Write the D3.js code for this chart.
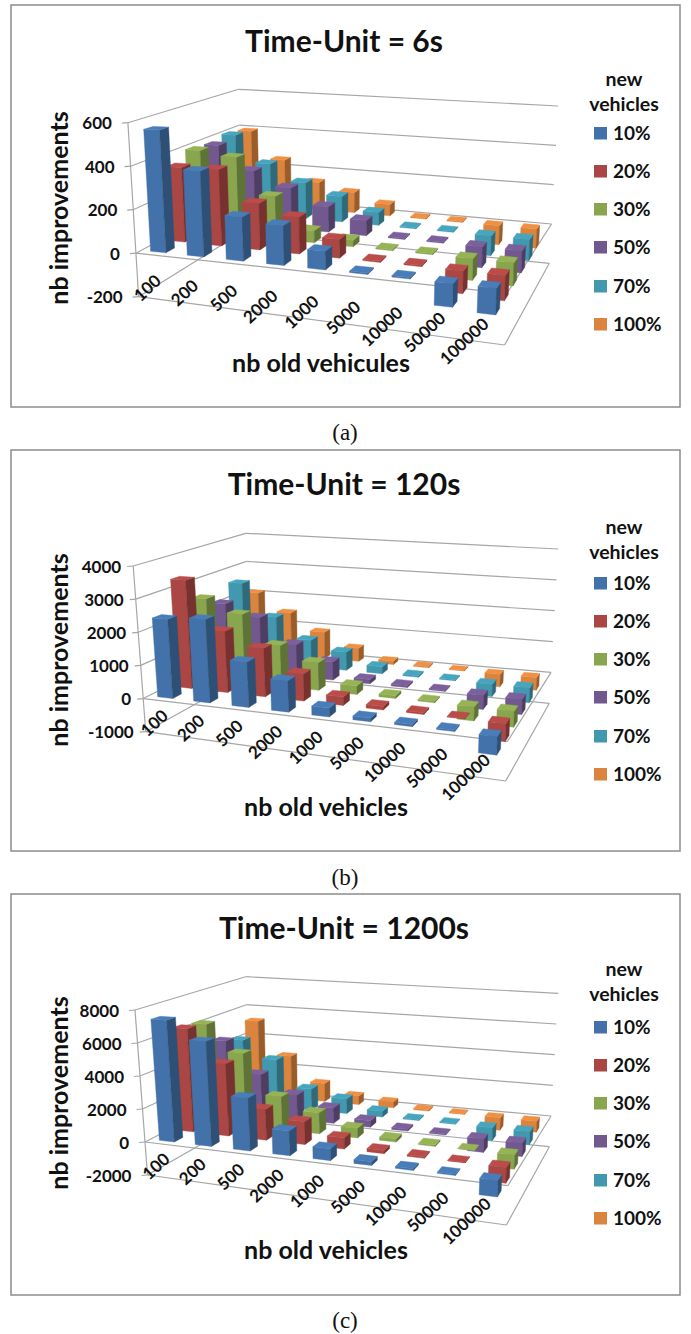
<!DOCTYPE html>
<html>
<head>
<meta charset="utf-8">
<script src="https://cdn.jsdelivr.net/npm/d3@7"></script>
<style>
  html, body { margin: 0; padding: 0; background: #fff; }
  svg { display: block; }
  text { font-family: Lato, "Open Sans", sans-serif; font-weight: bold; fill: #111; }
  .caption { font-family: "Liberation Serif", serif; font-weight: normal; font-size: 23px; }
</style>
</head>
<body>
<div class="container"></div>
<script>
const WIDTH = 691;
const HEIGHT = 1334;

const categories = ["100", "200", "500", "2000", "1000", "5000", "10000", "50000", "100000"];
const seriesNames = ["10%", "20%", "30%", "50%", "70%", "100%"];
const seriesColors = ["#4272a9", "#aa4643", "#89a54e", "#71588f", "#4198af", "#db843d"];

// one row per series, one column per category
const valuesA = [
    [563, 387, 195, 173, 80, 6, 6, -95, -105],
    [354, 357, 213, 166, 83, 6, 6, -95, -105],
    [399, 377, 202, 56, 30, 5, 5, -95, -100],
    [388, 271, 200, 123, 73, 5, 5, -95, -100],
    [406, 267, 184, 129, 64, 5, 5, -95, -100],
    [393, 249, 144, 106, 59, 5, 5, -95, -95]
];
const valuesB = [
    [2386, 2466, 1318, 892, 247, 100, 60, 40, -480],
    [3354, 1866, 1448, 798, 251, 100, 50, 20, -480],
    [2550, 2143, 1260, 842, 256, 80, 40, -400, -450],
    [2153, 1790, 1008, 571, 129, 60, 30, -420, -450],
    [2608, 1545, 881, 590, 222, 50, 30, -380, -450],
    [2060, 1458, 886, 442, 113, 40, 20, -400, -400]
];
const valuesC = [
    [7355, 6225, 3089, 1415, 665, 210, 100, 60, -850],
    [6417, 4411, 1849, 1347, 653, 182, 90, 40, -850],
    [6263, 4555, 2043, 1277, 582, 195, 80, 20, -800],
    [4711, 2699, 1580, 972, 408, 116, 60, -800, -800],
    [4297, 3154, 1396, 954, 376, 76, 50, -800, -800],
    [5171, 2905, 1228, 577, 399, 94, 40, -800, -700]
];

const ticksA = [-200, 0, 200, 400, 600];
const ticksB = [-1000, 0, 1000, 2000, 3000, 4000];
const ticksC = [-2000, 0, 2000, 4000, 6000, 8000];

// frame corners of each 3d box, on screen: front/back, left/right, bottom/top
const panels = [
    {title: "Time-Unit = 6s", titleX: 344, titleY: 52, xLabel: "nb old vehicules", xLabelX: 321, xLabelY: 372,
     yLabelY: 208, values: valuesA, ticks: ticksA, tickGap: 16, caption: "(a)", captionY: 440,
     box: [11, 5, 669, 402], legendTop: 80, rows: [133, 171, 209, 247, 286, 324],
     flb: [138.6, 296.7], flt: [127.9, 122.7], frb: [504.6, 345], frt: [513.6, 138.3],
     blb: [242.1, 232.3], blt: [238.6, 89.3], brb: [549.3, 263.3], brt: [558.2, 106]},
    {title: "Time-Unit = 120s", titleX: 344, titleY: 495, xLabel: "nb old vehicles", xLabelX: 326, xLabelY: 816,
     yLabelY: 650, values: valuesB, ticks: ticksB, tickGap: 12, caption: "(b)", captionY: 885,
     box: [11, 450, 669, 401], legendTop: 528, rows: [583, 621, 659, 697, 736, 774],
     flb: [145.7, 731.7], flt: [133.2, 566], frb: [505.7, 781], frt: [513.6, 584.3],
     blb: [249.3, 674], blt: [245.7, 533.3], brb: [549.3, 703.3], brt: [558.2, 549]},
    {title: "Time-Unit = 1200s", titleX: 344, titleY: 939, xLabel: "nb old vehicles", xLabelX: 326, xLabelY: 1259,
     yLabelY: 1093, values: valuesC, ticks: ticksC, tickGap: 16, caption: "(c)", captionY: 1328,
     box: [11, 894, 669, 401], legendTop: 970, rows: [1027, 1065, 1103, 1141, 1180, 1218],
     flb: [147.5, 1175], flt: [135, 1010], frb: [506.4, 1225], frt: [513.6, 1028.3],
     blb: [249.3, 1116.7], blt: [245.7, 976.7], brb: [549.3, 1146.7], brt: [558.2, 993.3]}
];

const GRID = "#a6a6a6";

var xBand = d3.scaleBand().domain(categories).range([0, 1]).paddingInner(0.57).paddingOuter(0.285);
var zBand = d3.scaleBand().domain(seriesNames).range([0, 1]).paddingInner(0.55).paddingOuter(0.275);

// spacing grows toward the viewer on x and shrinks away from him on z
var warpX = function(u){ return Math.pow(u, 1.07); };
var warpZ = function(w){ return 1 - Math.pow(1 - w, 1.15); };

var mix = function(a, b, t){
    return [a[0] + (b[0] - a[0]) * t, a[1] + (b[1] - a[1]) * t];
};

var makeProjection = function(panel){
    var yScale = d3.scaleLinear().domain(d3.extent(panel.ticks)).range([0, 1]);
    var atPlane = function(u, v, w){
        var fl = mix(panel.flb, panel.flt, v);
        var fr = mix(panel.frb, panel.frt, v);
        var bl = mix(panel.blb, panel.blt, v);
        var br = mix(panel.brb, panel.brt, v);
        return mix(mix(fl, fr, u), mix(bl, br, u), w);
    };
    return function(u, value, w){
        return atPlane(warpX(u), yScale(value), warpZ(w));
    };
};

var drawLine = function(g, a, b, width){
    g.append("line")
        .attr("x1", a[0]).attr("y1", a[1])
        .attr("x2", b[0]).attr("y2", b[1])
        .attr("stroke", GRID)
        .attr("stroke-width", width || 1.2);
};

var drawFrame = function(g, panel, project){
    var low = panel.ticks[0];
    var high = panel.ticks[panel.ticks.length - 1];

    panel.ticks.forEach(function(t){
        var front = project(0, t, 0);
        var back = project(0, t, 1);
        drawLine(g, front, back);
        drawLine(g, back, project(1, t, 1));
        drawLine(g, [front[0] - 6, front[1] + 0.5], front);

        g.append("text")
            .attr("x", front[0] - panel.tickGap)
            .attr("y", front[1] + 6.5)
            .attr("text-anchor", "end")
            .style("font-size", "17px")
            .text(t);
    });

    drawLine(g, project(0, low, 0), project(0, high, 0));
    // floor and the zero plane
    [low, 0].forEach(function(t){
        drawLine(g, project(0, t, 0), project(1, t, 0));
        drawLine(g, project(1, t, 0), project(1, t, 1));
    });
};

var drawBars = function(g, panel, project){
    var bw = xBand.bandwidth();
    var bd = zBand.bandwidth();
    var polygon = function(pts, color){
        g.append("polygon")
            .attr("points", pts.map(function(p){ return p.join(","); }).join(" "))
            .attr("fill", color)
            .attr("stroke", color)
            .attr("stroke-width", 0.4);
    };

    // painter's order: back series first, left to right inside a series
    d3.range(seriesNames.length - 1, -1, -1).forEach(function(s){
        var w0 = zBand(seriesNames[s]);
        var base = d3.color(seriesColors[s]);
        panel.values[s].forEach(function(v, c){
            var u0 = xBand(categories[c]);
            var lo = Math.min(v, 0);
            var hi = Math.max(v, 0);
            polygon([project(u0, lo, w0), project(u0 + bw, lo, w0), project(u0 + bw, hi, w0), project(u0, hi, w0)], base.formatHex());
            polygon([project(u0 + bw, lo, w0), project(u0 + bw, lo, w0 + bd), project(u0 + bw, hi, w0 + bd), project(u0 + bw, hi, w0)], base.darker(1).formatHex());
            polygon([project(u0, hi, w0), project(u0 + bw, hi, w0), project(u0 + bw, hi, w0 + bd), project(u0, hi, w0 + bd)], base.brighter(0.25).formatHex());
        });
    });
};

var drawCategoryLabels = function(g, panel, project){
    categories.forEach(function(name){
        var p = project(xBand(name) + xBand.bandwidth() / 2, panel.ticks[0], 0);
        g.append("text")
            .attr("transform", "translate(" + (p[0] + 3) + "," + (p[1] - 21) + ") rotate(-43)")
            .attr("text-anchor", "end")
            .attr("dy", "0.35em")
            .style("font-size", "17px")
            .text(name);
    });
};

var drawLegend = function(g, panel){
    ["new", "vehicles"].forEach(function(word, i){
        g.append("text")
            .attr("x", 624)
            .attr("y", panel.legendTop + i * 24.5 + 6)
            .attr("text-anchor", "middle")
            .style("font-size", "19.5px")
            .text(word);
    });
    seriesNames.forEach(function(name, i){
        g.append("rect")
            .attr("x", 594).attr("y", panel.rows[i] - 6)
            .attr("width", 13).attr("height", 12.5)
            .attr("fill", seriesColors[i]);
        g.append("text")
            .attr("x", 613).attr("y", panel.rows[i] + 7)
            .style("font-size", "19px")
            .text(name);
    });
};

var drawPanel = function(svg, panel){
    var g = svg.append("g");
    var project = makeProjection(panel);

    g.append("rect")
        .attr("x", panel.box[0]).attr("y", panel.box[1])
        .attr("width", panel.box[2]).attr("height", panel.box[3])
        .attr("fill", "#fff")
        .attr("stroke", "#8c8c8c")
        .attr("stroke-width", 1.5);

    drawFrame(g, panel, project);
    drawBars(g, panel, project);
    drawCategoryLabels(g, panel, project);
    drawLegend(g, panel);

    g.append("text")
        .attr("x", panel.titleX).attr("y", panel.titleY)
        .attr("text-anchor", "middle")
        .style("font-size", "30px")
        .text(panel.title);

    g.append("text")
        .attr("x", panel.xLabelX).attr("y", panel.xLabelY)
        .attr("text-anchor", "middle")
        .style("font-size", "25px")
        .text(panel.xLabel);

    g.append("text")
        .attr("transform", "translate(68," + panel.yLabelY + ") rotate(-90)")
        .attr("text-anchor", "middle")
        .style("font-size", "25px")
        .text("nb improvements");

    g.append("text")
        .attr("class", "caption")
        .attr("x", 345).attr("y", panel.captionY)
        .attr("text-anchor", "middle")
        .text(panel.caption);
};

var loadChart = function(){
    var svg = d3.select(".container").append("svg")
        .attr("width", WIDTH)
        .attr("height", HEIGHT);

    panels.forEach(function(panel){
        drawPanel(svg, panel);
    });
};

window.onload = loadChart;
</script>
</body>
</html>
